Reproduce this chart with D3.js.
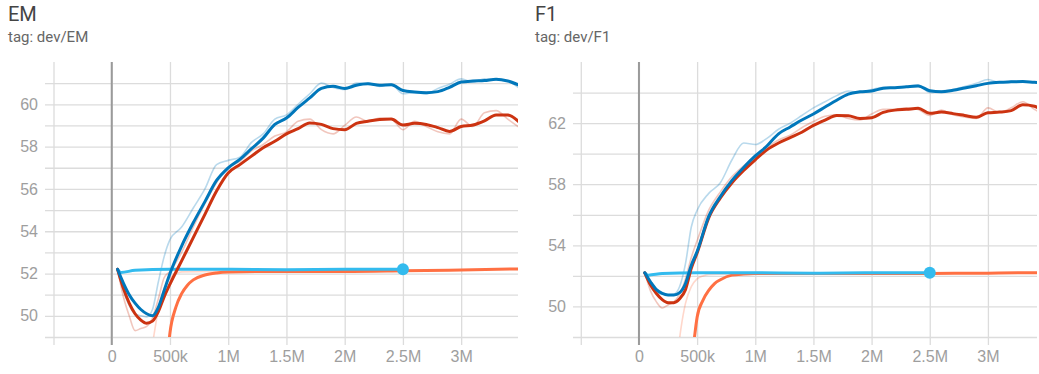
<!DOCTYPE html>
<html lang="en">
<head>
<meta charset="UTF-8">
<script src="https://d3js.org/d3.v7.min.js"></script>
<title>EM / F1</title>
<style>
  body { margin: 0; background: #fff; }
  svg { font-family: Roboto, "Noto Sans", sans-serif; }
  .title { fill: #444; font-size: 20px; }
  .tag { fill: #666; font-size: 15px; }
  .tick text { fill: #9e9e9e; font-size: 16px; }
  .grid line { stroke: #dcdcdc; stroke-width: 1.3px; }
  .grid .domain { display: none; }
  .lbl .domain { display: none; }
  .zero { stroke: #9a9a9a; stroke-width: 2px; }
  .smooth { fill: none; stroke-width: 3px; stroke-linejoin: round; stroke-linecap: round; }
  .raw { fill: none; stroke-width: 1.6px; opacity: 0.28; }
</style>
</head>
<body>
<script>
// training steps in millions
const steps = [0.05, 0.1, 0.15, 0.2, 0.25, 0.3, 0.35, 0.4, 0.45, 0.5,
  0.6, 0.7, 0.8, 0.9, 1.0, 1.1, 1.2, 1.3, 1.4, 1.5, 1.6, 1.7, 1.8, 1.9, 2.0,
  2.1, 2.2, 2.3, 2.4, 2.5, 2.6, 2.7, 2.8, 2.9, 3.0, 3.1, 3.2, 3.3, 3.4, 3.5];

const xTickValues = [-0.5, 0, 0.5, 1, 1.5, 2, 2.5, 3];
const xTickLabels = ["", "0", "500k", "1M", "1.5M", "2M", "2.5M", "3M"];

// ---- EM ----
const emBlue = [52.2, 51.55, 51.0, 50.6, 50.3, 50.1, 50.0, 50.4, 51.2, 52.0,
  53.3, 54.4, 55.4, 56.4, 57.0, 57.4, 57.9, 58.4, 59.05, 59.35, 59.85, 60.3, 60.75, 60.85, 60.75,
  60.9, 60.97, 60.9, 60.92, 60.65, 60.58, 60.55, 60.6, 60.8, 61.05, 61.1, 61.12, 61.18, 61.1, 60.9];
const emBlueRaw = [52.2, 51.2, 50.5, 50.1, 50.0, 49.95, 50.3, 51.6, 52.8, 53.6,
  54.2, 55.1, 56.0, 57.15, 57.35, 57.5, 58.2, 58.6, 59.3, 59.5, 60.0, 60.5, 61.0, 60.8, 60.7,
  61.0, 61.0, 60.85, 60.95, 60.5, 60.55, 60.5, 60.75, 60.95, 61.2, 61.05, 61.2, 61.15, 61.1, 60.75];
const emRed = [52.2, 51.3, 50.6, 50.1, 49.8, 49.65, 49.75, 50.2, 50.9, 51.5,
  52.6, 53.7, 54.8, 55.9, 56.75, 57.15, 57.55, 57.95, 58.25, 58.6, 58.85, 59.12, 59.05, 58.85, 58.8,
  59.1, 59.2, 59.28, 59.3, 59.02, 59.1, 59.05, 58.9, 58.72, 58.95, 59.02, 59.22, 59.5, 59.5, 59.15];
const emRedRaw = [52.2, 50.9, 50.0, 49.3, 49.4, 49.5, 49.9, 50.8, 51.8, 52.1,
  53.0, 54.2, 55.3, 56.3, 57.0, 57.3, 57.8, 58.1, 58.5, 58.7, 59.2, 59.3, 58.8, 58.6, 59.0,
  59.4, 59.2, 59.35, 59.3, 58.8, 59.2, 58.95, 58.7, 58.6, 59.3, 58.95, 59.6, 59.7, 59.3, 58.9];

const cyanSteps = [0.05, 0.08, 0.2, 0.5, 1.0, 1.5, 2.0, 2.5];
const emCyan = [52.2, 52.05, 52.15, 52.2, 52.2, 52.18, 52.2, 52.2];

const orangeSteps = [0.42, 0.47, 0.5, 0.55, 0.6, 0.65, 0.7, 0.8, 0.9, 1.0, 1.5, 2.0, 2.5, 3.0, 3.5];
const emOrange = [44, 47.5, 49.2, 50.4, 51.05, 51.45, 51.7, 51.93, 52.03, 52.07, 52.1, 52.1, 52.13, 52.17, 52.22];
const orangeRawSteps = [0.32, 0.36, 0.4, 0.45, 0.5, 0.55, 0.6, 1.0];
const emOrangeRaw = [47.5, 49.0, 50.3, 51.3, 51.8, 52.0, 52.08, 52.1];

// ---- F1 ----
const f1Blue = [52.2, 51.6, 51.1, 50.85, 50.75, 50.75, 50.9, 51.5, 52.7, 53.6,
  55.9, 57.2, 58.25, 59.1, 59.85, 60.5, 61.3, 61.75, 62.2, 62.6, 63.05, 63.5, 63.9, 64.05, 64.1,
  64.28, 64.32, 64.38, 64.43, 64.12, 64.05, 64.15, 64.3, 64.45, 64.6, 64.67, 64.7, 64.72, 64.67, 64.65];
const f1BlueRaw = [52.2, 51.3, 50.9, 50.8, 50.75, 50.8, 51.3, 52.8, 55.2, 56.3,
  57.4, 58.1, 59.6, 60.7, 60.6, 61.0, 61.6, 62.0, 62.5, 63.0, 63.4, 63.8, 64.1, 64.0, 64.2,
  64.35, 64.3, 64.4, 64.5, 64.0, 64.1, 64.2, 64.4, 64.6, 64.85, 64.65, 64.75, 64.7, 64.65, 64.6];
const f1Red = [52.2, 51.4, 50.85, 50.45, 50.25, 50.25, 50.5, 51.1, 52.5, 53.5,
  55.8, 57.1, 58.1, 58.9, 59.6, 60.25, 60.7, 61.05, 61.4, 61.85, 62.2, 62.5, 62.48, 62.3, 62.35,
  62.7, 62.85, 62.9, 62.97, 62.64, 62.72, 62.62, 62.5, 62.38, 62.68, 62.72, 62.82, 63.2, 63.1, 62.7];
const f1RedRaw = [52.2, 51.0, 50.3, 49.9, 50.1, 50.3, 50.8, 51.8, 53.2, 54.3,
  56.3, 57.5, 58.5, 59.2, 59.8, 60.4, 60.9, 61.2, 61.7, 62.1, 62.45, 62.55, 62.3, 62.2, 62.6,
  62.9, 62.9, 63.0, 62.9, 62.5, 62.85, 62.55, 62.4, 62.3, 63.0, 62.7, 63.0, 63.4, 62.9, 62.5];

const f1Cyan = [52.2, 52.05, 52.15, 52.2, 52.2, 52.18, 52.2, 52.2];
const f1Orange = [44, 47.5, 49.3, 50.4, 51.05, 51.5, 51.75, 52.05, 52.12, 52.15, 52.15, 52.15, 52.16, 52.18, 52.22];
const f1OrangeRaw = [46, 48.5, 50.2, 51.3, 51.8, 52.0, 52.1, 52.15];

const blue = "#0077bb", red = "#cc3311", cyan = "#33bbee", orange = "#ff7043";

const width = 1039, height = 374;
const svg = d3.select("body").append("svg")
  .attr("width", width).attr("height", height);

function drawChart(c) {
  const g = svg.append("g");
  const x = d3.scaleLinear().domain(c.xDomain).range([c.left, c.right]);
  const y = d3.scaleLinear().domain(c.yDomain).range([337, 62]);

  g.append("text").attr("class", "title").attr("x", c.titleX).attr("y", 21).text(c.title);
  g.append("text").attr("class", "tag").attr("x", c.titleX).attr("y", 42).text(c.tag);

  // horizontal grid
  g.append("g").attr("class", "grid")
    .attr("transform", "translate(" + c.left + ",0)")
    .call(d3.axisLeft(y).tickValues(c.yGrid).tickSize(-(c.right - c.left)).tickFormat(""));
  // vertical grid with small ticks below
  g.append("g").attr("class", "grid")
    .attr("transform", "translate(0,345)")
    .call(d3.axisBottom(x).tickValues(xTickValues).tickSize(-283).tickFormat(""));
  g.append("line").attr("class", "zero")
    .attr("x1", x(0)).attr("x2", x(0)).attr("y1", 62).attr("y2", 345);

  // labels
  g.append("g").attr("class", "lbl")
    .attr("transform", "translate(0,337)")
    .call(d3.axisBottom(x).tickValues(xTickValues).tickSize(0).tickPadding(14)
      .tickFormat((d, i) => xTickLabels[i]));
  g.append("g").attr("class", "lbl")
    .attr("transform", "translate(" + c.left + ",0)")
    .call(d3.axisLeft(y).tickValues(c.yLabels).tickSize(0).tickPadding(7));
  g.selectAll(".lbl .tick text").attr("fill", null);

  const clipId = "clip" + c.title;
  svg.append("clipPath").attr("id", clipId).append("rect")
    .attr("x", c.left).attr("y", 62).attr("width", c.right - c.left).attr("height", 275);
  const plot = g.append("g").attr("clip-path", "url(#" + clipId + ")");

  const line = (xs, ys) => d3.line().curve(d3.curveMonotoneX)
    .x((d, i) => x(xs[i])).y(d => y(d))(ys);

  plot.append("path").attr("class", "raw").attr("stroke", orange).attr("d", line(orangeRawSteps, c.orangeRaw));
  plot.append("path").attr("class", "raw").attr("stroke", red).attr("d", line(steps, c.redRaw));
  plot.append("path").attr("class", "raw").attr("stroke", blue).attr("d", line(steps, c.blueRaw));
  plot.append("path").attr("class", "smooth").attr("stroke", orange).attr("stroke-width", 2.5).attr("d", line(orangeSteps, c.orange));
  plot.append("path").attr("class", "smooth").attr("stroke", cyan).attr("stroke-width", 2.5).attr("d", line(cyanSteps, c.cyan));
  plot.append("path").attr("class", "smooth").attr("stroke", red).attr("d", line(steps, c.red));
  plot.append("path").attr("class", "smooth").attr("stroke", blue).attr("d", line(steps, c.blue));
  const last = cyanSteps.length - 1;
  plot.append("circle").attr("cx", x(cyanSteps[last])).attr("cy", y(c.cyan[last]))
    .attr("r", 6).attr("fill", cyan);
}

drawChart({
  title: "EM", tag: "tag: dev/EM", titleX: 8,
  left: 45, right: 518, xDomain: [-0.573, 3.488], yDomain: [49, 62],
  yGrid: d3.range(49, 62, 1), yLabels: [50, 52, 54, 56, 58, 60],
  blue: emBlue, blueRaw: emBlueRaw, red: emRed, redRaw: emRedRaw,
  cyan: emCyan, orange: emOrange, orangeRaw: emOrangeRaw
});
drawChart({
  title: "F1", tag: "tag: dev/F1", titleX: 535,
  left: 573, right: 1037, xDomain: [-0.567, 3.422], yDomain: [48, 66],
  yGrid: d3.range(48, 66, 2), yLabels: [50, 54, 58, 62],
  blue: f1Blue, blueRaw: f1BlueRaw, red: f1Red, redRaw: f1RedRaw,
  cyan: f1Cyan, orange: f1Orange, orangeRaw: f1OrangeRaw
});
</script>
</body>
</html>
